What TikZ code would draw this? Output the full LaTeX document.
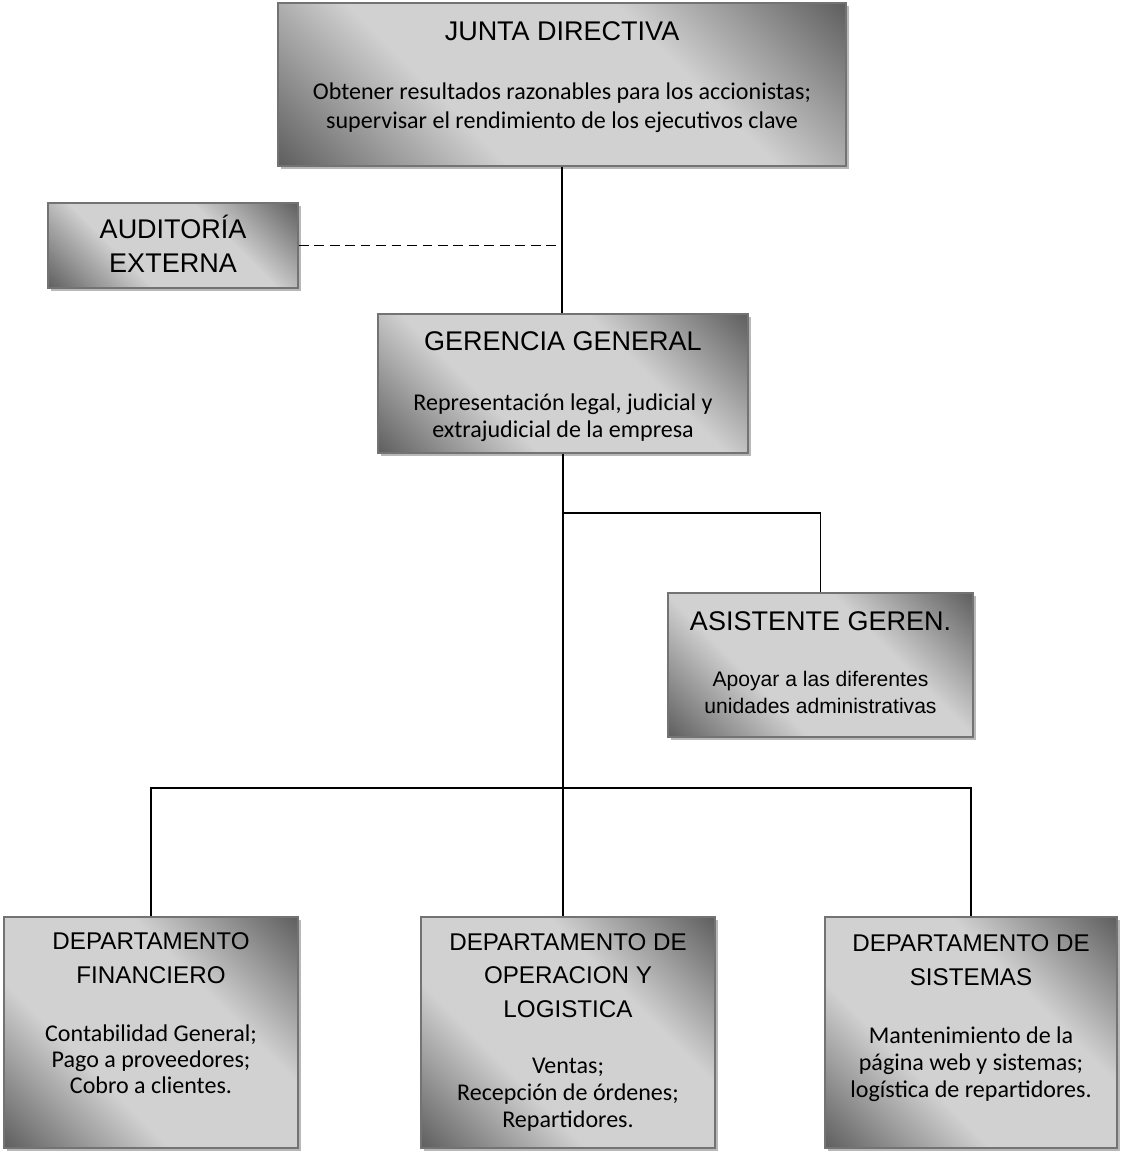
\documentclass[tikz,border=0pt]{standalone}
\usepackage{fontspec}
\setmainfont{Carlito}
\newfontfamily\arialfont{Liberation Sans}
\usetikzlibrary{shadows}

\definecolor{cajaoscuro}{gray}{0.38}
\definecolor{cajaclaro}{gray}{0.82}
\definecolor{cajaborde}{gray}{0.45}
\definecolor{cajasombra}{gray}{0.72}
\pgfdeclareverticalshading{cajagris}{100bp}{color(0bp)=(cajaoscuro); color(15bp)=(cajaoscuro); color(37bp)=(cajaclaro); color(63bp)=(cajaclaro); color(85bp)=(cajaoscuro); color(100bp)=(cajaoscuro)}

\tikzset{
	caja/.style 2 args={draw=cajaborde, line width=1.1pt, shading=cajagris, shading angle=-45,
		minimum width=#1*0.025cm, minimum height=#2*0.025cm, inner sep=0pt,
		drop shadow={shadow xshift=0.08cm, shadow yshift=-0.08cm, fill=cajasombra, opacity=1}},
	titulo/.style={anchor=base, align=center, inner sep=0pt, font=\arialfont\fontsize{19.2}{24.2}\selectfont},
	tituloDep/.style={anchor=base, align=center, inner sep=0pt, font=\arialfont\fontsize{17.2}{23.5}\selectfont},
	cuerpo/.style={anchor=base, align=center, inner sep=0pt, font=\fontsize{17.1}{19.2}\selectfont},
	linea/.style={draw=black, line width=0.9pt}
}

\begin{document}
\begin{tikzpicture}[x=0.025cm, y=-0.025cm]
		\useasboundingbox (0,0) rectangle (1120,1155);
		
		% cajas
		\node[caja={568}{163}] (jd) at (562,84.5) {};
		\node[caja={250}{85}] (ae) at (173,245.5) {};
		\node[caja={370}{139}] (gg) at (563,383.5) {};
		\node[caja={305}{144}] (ag) at (820.5,665) {};
		\node[caja={294}{231}] (df) at (151,1032.5) {};
		\node[caja={294}{231}] (do) at (568,1032.5) {};
		\node[caja={292}{231}] (ds) at (971,1032.5) {};
		
		% textos (anchor=base cae en la ultima linea)
		\node[titulo] (jdt) at (562,41) {JUNTA DIRECTIVA};
		\node[cuerpo, font=\fontsize{17.1}{21.2}\selectfont] (jdb) at (562,129) {Obtener resultados razonables para los accionistas;\\supervisar el rendimiento de los ejecutivos clave};
		
		\node[titulo] (aet) at (173,273) {AUDITORÍA\\EXTERNA};
		
		\node[titulo] (ggt) at (563,350) {GERENCIA GENERAL};
		\node[cuerpo] (ggb) at (563,437) {Representación legal, judicial y\\extrajudicial de la empresa};
		
		\node[titulo] (agt) at (820.5,630) {ASISTENTE GEREN.};
		\node[cuerpo, font=\arialfont\fontsize{15}{19.2}\selectfont] (agb) at (820.5,713) {Apoyar a las diferentes\\unidades administrativas};
		
		\node[tituloDep] (dft) at (151,983) {DEPARTAMENTO\\FINANCIERO};
		\node[cuerpo, font=\fontsize{17.1}{18.3}\selectfont] (dfb) at (151,1093) {Contabilidad General;\\Pago a proveedores;\\Cobro a clientes.};
		
		\node[tituloDep] (dot) at (568,1017) {DEPARTAMENTO DE\\OPERACION Y\\LOGISTICA};
		\node[cuerpo] (dob) at (568,1127) {Ventas;\\Recepción de órdenes;\\Repartidores.};
		
		\node[tituloDep] (dst) at (971,985) {DEPARTAMENTO DE\\SISTEMAS};
		\node[cuerpo] (dsb) at (971,1097) {Mantenimiento de la\\página web y sistemas;\\logística de repartidores.};
		
		% lineas
		\coordinate (ramaA) at (563,513);
		\coordinate (ramaD) at (563,788);
		
		\draw[linea] (jd.south) -- (jd.south |- gg.north);
		\draw[linea, dash pattern=on 7pt off 4pt] (ae.east) -- (ae.east -| jd.south);
		\draw[linea] (gg.south) -- (gg.south |- do.north);
		\draw[linea] (ramaA) -| (ag.north);
		\draw[linea] (df.north) |- (ramaD) -| (ds.north);
	\end{tikzpicture}
\end{document}
